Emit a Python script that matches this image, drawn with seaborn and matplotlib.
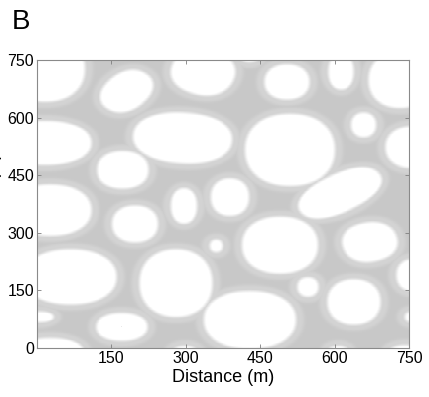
import numpy as np
import pandas as pd
import matplotlib
matplotlib.use("Agg")
import matplotlib.pyplot as plt
import seaborn as sns

# Open patches in the 750 m x 750 m domain: centre, semi-axes (m) and tilt (deg)
patch_x = [16, 181, 335, 429, 504, 613, 732,
           16, 294, 510, 659, 756, 173,
           296, 389, 611, 26, 198, 361, 490, 671,
           67, 280, 546, 639, 756, 429,
           6, 171, 26, 298, 607, 742, 756]
patch_y = [727, 669, 719, 771, 693, 720, 698,
           534, 547, 516, 581, 523, 464,
           370, 393, 404, 359, 323, 266, 268, 276,
           185, 169, 159, 120, 190, 73,
           81, 55, -10, -21, -21, -21, 81]
patch_rx = [80, 60, 65, 22, 45, 26, 63,
            93, 100, 90, 25, 53, 52,
            26, 39, 94, 83, 46, 13, 76, 56,
            94, 73, 21, 54, 31, 93,
            27, 52, 67, 28, 24, 36, 14]
patch_ry = [86, 45, 60, 26, 46, 47, 73,
            57, 66, 94, 32, 54, 49,
            46, 49, 48, 67, 48, 16, 74, 51,
            72, 88, 25, 59, 41, 75,
            13, 36, 36, 26, 26, 28, 13]
patch_tilt = [0, 50, -20, 0, 0, 0, 0,
              0, -5, 0, 0, 0, 0,
              0, 0, 33, 0, 0, 0, 0, 15,
              0, 0, 0, 0, 0, 0,
              0, 0, 0, 0, 0, 0, 0]

x_ticks = [150, 300, 450, 600, 750]
y_ticks = [0, 150, 300, 450, 600, 750]
domain = 750.0
n_cells = 375
squareness = 2.2


def smoothstep(a, b, x):
    t = np.clip((x - a) / (b - a), 0.0, 1.0)
    return t * t * (3.0 - 2.0 * t)


# signed distance (m) to the nearest patch edge on a regular grid
centres = (np.arange(n_cells) + 0.5) * domain / n_cells
X, Y = np.meshgrid(centres, centres)
dist = np.full(X.shape, np.inf)
for cx, cy, rx, ry, tilt in zip(patch_x, patch_y, patch_rx, patch_ry, patch_tilt):
    th = np.deg2rad(tilt)
    dx, dy = X - cx, Y - cy
    u = dx * np.cos(th) + dy * np.sin(th)
    v = -dx * np.sin(th) + dy * np.cos(th)
    rho = (np.abs(u / rx) ** squareness + np.abs(v / ry) ** squareness) ** (1.0 / squareness)
    rho = np.maximum(rho, 1e-6)
    d = np.hypot(dx, dy) * (1.0 - 1.0 / rho)
    dist = np.minimum(dist, d)

white, halo, base = 1.0, 0.825, 0.785
shade = (white
         - (white - halo) * smoothstep(-6.0, 6.0, dist)
         - (halo - base) * smoothstep(10.0, 22.0, dist))

plt.rcParams["font.family"] = ["Liberation Sans", "DejaVu Sans"]
fig = plt.figure(figsize=(4.29, 3.97), dpi=100)
ax = fig.add_axes([37 / 429, 49 / 397, 372 / 429, 288 / 397])

sns.heatmap(pd.DataFrame(shade), cmap="gray", vmin=0, vmax=1, cbar=False,
            xticklabels=False, yticklabels=False, ax=ax, rasterized=True)
ax.invert_yaxis()

scale = n_cells / domain
ax.set_xticks(np.array(x_ticks) * scale)
ax.set_xticklabels([str(t) for t in x_ticks])
ax.set_yticks(np.array(y_ticks) * scale)
ax.set_yticklabels([str(t) for t in y_ticks])
ax.tick_params(direction="in", length=3, width=0.6, color="#7f7f7f",
               top=True, right=True, labelsize=11.5, pad=2)

for s in ax.spines.values():
    s.set_visible(True)
    s.set_color("#8a8a8a")
    s.set_linewidth(0.8)

ax.set_xlabel("Distance (m)", fontsize=13, labelpad=2)
ax.set_ylabel("Distance (m)", fontsize=13)
ax.yaxis.set_label_coords(-0.094, 0.5)

fig.text(12 / 429, 1 - 9 / 397, "B", fontsize=20, ha="left", va="top")

fig.savefig("out.png", dpi=100)
